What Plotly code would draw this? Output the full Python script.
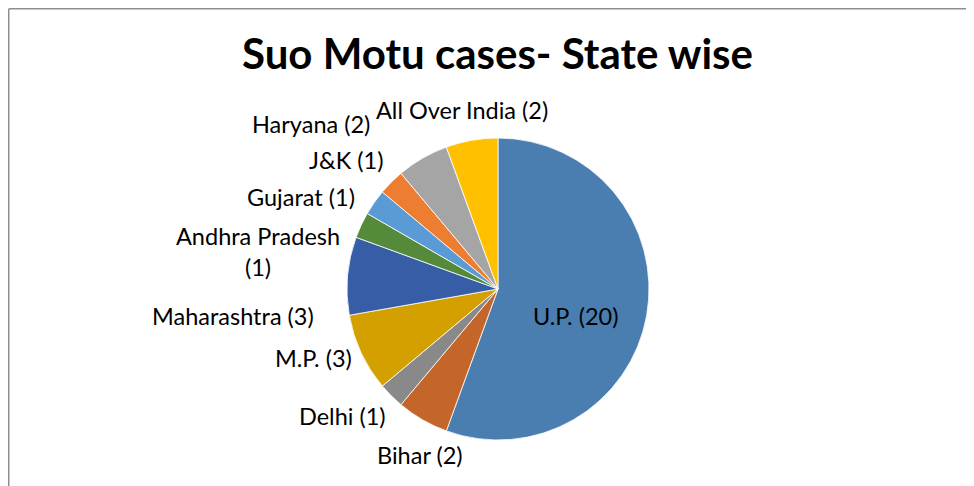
import plotly.graph_objects as go

# ---- data ----
states = ["U.P.", "Bihar", "Delhi", "M.P.", "Maharashtra", "Andhra Pradesh",
          "Gujarat", "J&K", "Haryana", "All Over India"]
cases = [20, 2, 1, 3, 3, 1, 1, 1, 2, 2]
slice_colors = ["#4A7EB0", "#C4652A", "#898989", "#D4A000", "#365DA5",
                "#558A3A", "#5B9BD5", "#ED7D31", "#A5A5A5", "#FFC000"]
title_text = "Suo Motu cases- State wise"

# ---- layout (page has an 8px body margin, so figure is 8px smaller) ----
OFF = 8
W, H = 974 - OFF, 486 - OFF


def px_x(x):
    return (x - OFF) / W


def px_y(y):
    return 1 - (y - OFF) / H


# pixel positions (in the 974x486 window) of the label centres
label_px = [(575, 316), (420, 455), (342, 416), (313, 358), (233, 316),
            (258, 251), (301, 197), (346, 160), (311, 124), (462, 110)]
label_break = {"Andhra Pradesh": "Andhra Pradesh<br>"}

fig = go.Figure(go.Pie(
    labels=states,
    values=cases,
    sort=False,
    direction="clockwise",
    rotation=0,
    marker=dict(colors=slice_colors, line=dict(color="#FFFFFF", width=0.8)),
    textinfo="none",
    hoverinfo="skip",
    showlegend=False,
    domain=dict(x=[px_x(347), px_x(649)], y=[px_y(440), px_y(138)]),
))

annotations = []
for name, val, (px, py) in zip(states, cases, label_px):
    txt = label_break.get(name, name + " ") + f"({val})"
    annotations.append(dict(
        x=px_x(px), y=px_y(py), xref="paper", yref="paper",
        text=txt, showarrow=False, xanchor="center", yanchor="middle",
        align="center",
        font=dict(family="Lato", size=23.5, color="#000000"),
    ))

annotations.append(dict(
    x=px_x(497), y=px_y(53), xref="paper", yref="paper",
    text=f"<b>{title_text}</b>", showarrow=False, xanchor="center", yanchor="middle",
    font=dict(family="Lato", size=42, color="#000000"),
))

shapes = [
    dict(type="line", xref="paper", yref="paper", x0=px_x(8.75), x1=1, y0=px_y(8.75), y1=px_y(8.75),
         line=dict(color="#8E8E8E", width=1.5)),
    dict(type="line", xref="paper", yref="paper", x0=px_x(8.75), x1=px_x(8.75), y0=0, y1=px_y(8.75),
         line=dict(color="#8E8E8E", width=1.5)),
]

fig.update_layout(
    width=W, height=H,
    margin=dict(l=0, r=0, t=0, b=0),
    paper_bgcolor="#FFFFFF",
    plot_bgcolor="#FFFFFF",
    annotations=annotations,
    shapes=shapes,
    hovermode=False,
)

fig.write_html("out.html")
